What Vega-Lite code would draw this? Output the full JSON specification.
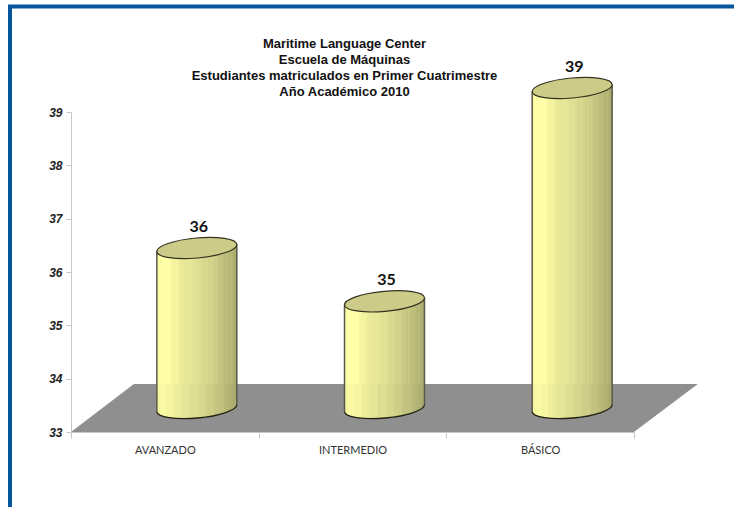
{
"$schema":"https://vega.github.io/schema/vega-lite/v6.json",
"width":563,"height":320,"autosize":"none",
"padding":{"left":71,"top":112,"right":100,"bottom":75},
"background":"white",
"view":{"stroke":null},
"title":{"text":["Maritime Language Center","Escuela de Máquinas","Estudiantes matriculados en Primer Cuatrimestre","Año Académico 2010"],"font":"Liberation Sans","fontSize":13,"fontWeight":"bold","color":"#111111","lineHeight":16,"anchor":"middle","dx":-8,"offset":14,"dy":115},
"datasets":{
"niveles":[{"nivel":"AVANZADO","estudiantes":36},{"nivel":"INTERMEDIO","estudiantes":35},{"nivel":"BÁSICO","estudiantes":39}],
"piso":[{"p":0,"sup":33,"inf":33},{"p":0.335,"sup":33.9,"inf":33},{"p":3,"sup":33.9,"inf":33},{"p":3.34,"sup":33.9,"inf":33.9}],
"marco":[{"p":-0.325,"v":31.5},{"p":-0.325,"v":40.98},{"p":3.6,"v":40.98}]
},
"layer":[
{"data":{"name":"marco"},"mark":{"type":"line","stroke":"#05569b","strokeWidth":4,"clip":false},"encoding":{"x":{"field":"p","type":"quantitative","scale":{"domain":[0,3],"nice":false,"zero":false},"axis":null},"y":{"field":"v","type":"quantitative","scale":{"domain":[33,39],"nice":false,"zero":false},"axis":{"title":null,"values":[33,34,35,36,37,38,39],"format":"d","grid":false,"domainColor":"#c8c8c8","tickColor":"#c8c8c8","tickSize":5,"labelFont":"Liberation Sans","labelFontSize":12,"labelFontStyle":"italic","labelFontWeight":"bold","labelColor":"#222222","labelPadding":4}},"order":{"field":"v","type":"quantitative"}}},
{"data":{"name":"piso"},"mark":{"type":"area","fill":"#8f8f8f","opacity":1,"clip":false},"encoding":{"x":{"field":"p","type":"quantitative","scale":{"domain":[0,3],"nice":false,"zero":false},"axis":null},"y":{"field":"sup","type":"quantitative"},"y2":{"field":"inf"}}},
{
"data":{"name":"niveles"},
"encoding":{
"x":{"field":"nivel","type":"nominal","sort":null,"scale":{"paddingInner":0,"paddingOuter":0},"axis":{"title":null,"labelAngle":0,"tickBand":"extent","domainColor":"#c8c8c8","tickColor":"#c8c8c8","tickSize":6,"labelFont":"Lato","labelFontSize":11,"labelColor":"#333333","labelPadding":6,"grid":false}},
"y":{"field":"estudiantes","type":"quantitative"}
},
"layer":[
{"mark":{"type":"bar","width":80,"xOffset":32,"yOffset":-20,"y2Offset":-38,"fill":{"x1":0,"y1":0,"x2":1,"y2":0,"gradient":"linear","stops":[{"offset":0,"color":"#f6f6a2"},{"offset":0.04,"color":"#ffffa8"},{"offset":0.18,"color":"#ffffa8"},{"offset":0.18,"color":"#f7f7a2"},{"offset":0.28,"color":"#f2f29e"},{"offset":0.28,"color":"#ecec9a"},{"offset":0.4,"color":"#e6e696"},{"offset":0.4,"color":"#eaea99"},{"offset":0.5,"color":"#dede92"},{"offset":0.5,"color":"#e3e395"},{"offset":0.6,"color":"#d4d48c"},{"offset":0.6,"color":"#dada90"},{"offset":0.68,"color":"#cfcf88"},{"offset":0.68,"color":"#d6d68c"},{"offset":0.74,"color":"#c8c884"},{"offset":0.74,"color":"#cfcf88"},{"offset":0.8,"color":"#c0c07e"},{"offset":0.8,"color":"#c9c984"},{"offset":0.86,"color":"#b8b878"},{"offset":0.86,"color":"#c2c27f"},{"offset":0.92,"color":"#b0b073"},{"offset":0.92,"color":"#bbbb7a"},{"offset":1,"color":"#a5a56b"}]}},"encoding":{"y2":{"datum":33}}},
{"mark":{"type":"point","filled":true,"opacity":1,"size":6400,"xOffset":32,"yOffset":-24,"strokeWidth":0,"shape":"M1,-0.6 L1,-0.09 C1.011,0.048 0.572,0.2 0.02,0.25 C-0.532,0.3 -0.989,0.228 -1,0.09 L-1,-0.6 Z","fill":{"x1":0,"y1":0,"x2":1,"y2":0,"gradient":"linear","stops":[{"offset":0,"color":"#f2f29e"},{"offset":0.06,"color":"#fbfba6"},{"offset":0.12,"color":"#fafaa4"},{"offset":0.12,"color":"#f4f4a0"},{"offset":0.2,"color":"#f8f8a4"},{"offset":0.2,"color":"#efef9c"},{"offset":0.3,"color":"#ecec9a"},{"offset":0.3,"color":"#e6e698"},{"offset":0.42,"color":"#e4e496"},{"offset":0.42,"color":"#dcdc90"},{"offset":0.5,"color":"#e0e094"},{"offset":0.5,"color":"#dada90"},{"offset":0.62,"color":"#d4d48c"},{"offset":0.62,"color":"#cfcf88"},{"offset":0.72,"color":"#cdcd87"},{"offset":0.72,"color":"#c6c682"},{"offset":0.84,"color":"#bfbf7e"},{"offset":0.84,"color":"#baba7a"},{"offset":1,"color":"#a8a86e"}]}},"encoding":{"y":{"datum":33}}},
{"mark":{"type":"point","filled":true,"opacity":1,"size":6400,"xOffset":32,"yOffset":-24,"strokeWidth":0,"shape":"M-1,0.09 L-1,0.5 L1,0.5 L1,-0.09 Z","fill":{"x1":0,"y1":0,"x2":1,"y2":0,"gradient":"linear","stops":[{"offset":0,"color":"#f6f6a2"},{"offset":0.04,"color":"#ffffa8"},{"offset":0.18,"color":"#ffffa8"},{"offset":0.18,"color":"#f7f7a2"},{"offset":0.28,"color":"#f2f29e"},{"offset":0.28,"color":"#ecec9a"},{"offset":0.4,"color":"#e6e696"},{"offset":0.4,"color":"#eaea99"},{"offset":0.5,"color":"#dede92"},{"offset":0.5,"color":"#e3e395"},{"offset":0.6,"color":"#d4d48c"},{"offset":0.6,"color":"#dada90"},{"offset":0.68,"color":"#cfcf88"},{"offset":0.68,"color":"#d6d68c"},{"offset":0.74,"color":"#c8c884"},{"offset":0.74,"color":"#cfcf88"},{"offset":0.8,"color":"#c0c07e"},{"offset":0.8,"color":"#c9c984"},{"offset":0.86,"color":"#b8b878"},{"offset":0.86,"color":"#c2c27f"},{"offset":0.92,"color":"#b0b073"},{"offset":0.92,"color":"#bbbb7a"},{"offset":1,"color":"#a5a56b"}]}}},
{"mark":{"type":"rule","xOffset":-8,"yOffset":-20.5,"y2Offset":-20.5,"stroke":"#5a5a4c","strokeWidth":1.5},"encoding":{"y2":{"datum":33}}},
{"mark":{"type":"rule","xOffset":72,"yOffset":-27.5,"y2Offset":-27.5,"stroke":"#5a5a4c","strokeWidth":1.5},"encoding":{"y2":{"datum":33}}},
{"mark":{"type":"point","filled":false,"opacity":1,"size":6400,"xOffset":32,"yOffset":-24,"strokeWidth":1.3,"stroke":"#222211","fill":null,"shape":"M1,-0.09 C1.011,0.048 0.572,0.2 0.02,0.25 C-0.532,0.3 -0.989,0.228 -1,0.09"},"encoding":{"y":{"datum":33}}},
{"mark":{"type":"point","filled":true,"opacity":1,"size":6400,"xOffset":32,"yOffset":-24,"strokeWidth":1.2,"stroke":"#333322","fill":"#cccc88","shape":"M1,-0.09 C1.011,0.048 0.572,0.2 0.02,0.25 C-0.532,0.3 -0.989,0.228 -1,0.09 C-1.011,-0.048 -0.572,-0.2 -0.02,-0.25 C0.532,-0.3 0.989,-0.228 1,-0.09 Z"}},
{"mark":{"type":"text","font":"Lato","fontSize":16,"fontWeight":"bold","color":"#111111","xOffset":34,"yOffset":-45,"baseline":"middle","align":"center"},"encoding":{"text":{"field":"estudiantes","type":"quantitative","format":"d"}}}
]
}
],
"resolve":{"scale":{"x":"independent"}}
}
